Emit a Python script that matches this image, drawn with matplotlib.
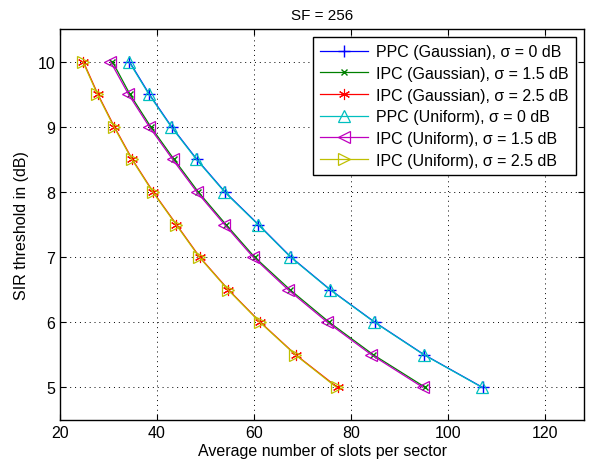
import matplotlib
matplotlib.use('Agg')
import matplotlib.pyplot as plt

plt.rcParams['font.family'] = ['Liberation Sans', 'DejaVu Sans']
plt.rcParams['font.size'] = 11.5

# SIR threshold values (dB)
sir = [10, 9.5, 9, 8.5, 8, 7.5, 7, 6.5, 6, 5.5, 5]

# average number of slots per sector
ppc_gauss = [34.3, 38.4, 43.0, 48.2, 54.0, 60.9, 67.6, 75.7, 84.9, 95.1, 107.1]
ipc15_gauss = [30.8, 34.4, 38.7, 43.5, 48.5, 54.2, 60.1, 67.4, 75.5, 84.6, 95.3]
ipc25_gauss = [24.8, 27.8, 31.2, 34.9, 39.2, 44.0, 48.8, 54.7, 61.3, 68.6, 77.2]
ppc_unif = [34.2, 38.3, 42.9, 48.1, 53.9, 60.8, 67.5, 75.6, 84.8, 95.0, 107.0]
ipc15_unif = [30.4, 34.1, 38.4, 43.2, 48.2, 53.9, 59.8, 67.0, 75.1, 84.2, 94.8]
ipc25_unif = [24.7, 27.7, 31.1, 34.8, 39.1, 43.9, 48.7, 54.6, 61.2, 68.5, 77.0]

labels = ['PPC (Gaussian), \u03c3 = 0 dB',
          'IPC (Gaussian), \u03c3 = 1.5 dB',
          'IPC (Gaussian), \u03c3 = 2.5 dB',
          'PPC (Uniform), \u03c3 = 0 dB',
          'IPC (Uniform), \u03c3 = 1.5 dB',
          'IPC (Uniform), \u03c3 = 2.5 dB']

fig = plt.figure(figsize=(5.89, 4.64), dpi=100)
ax = fig.add_axes([60 / 589, 1 - 421 / 464, 524 / 589, 391 / 464])

ax.plot(ppc_gauss, sir, '-+', color='b', lw=0.9, ms=8, label=labels[0])
ax.plot(ipc15_gauss, sir, '-x', color=(0, 0.5, 0), lw=0.9, ms=5, label=labels[1])
ax.plot(ipc25_gauss, sir, '-', marker=(6, 2, 0), color='r', lw=0.9, ms=8, mew=0.8, label=labels[2])
ax.plot(ppc_unif, sir, '-^', color='c', lw=0.9, ms=9, mfc='none', mew=0.9, label=labels[3])
ax.plot(ipc15_unif, sir, '-<', color='m', lw=0.9, ms=9, mfc='none', mew=0.9, label=labels[4])
ax.plot(ipc25_unif, sir, '->', color=(0.75, 0.75, 0), lw=0.9, ms=9, mfc='none', mew=0.9, label=labels[5])

ax.set_xlim(20, 128)
ax.set_ylim(4.5, 10.5)
ax.set_xticks([20, 40, 60, 80, 100, 120])
ax.set_yticks([5, 6, 7, 8, 9, 10])
ax.grid(True, linestyle=(0, (1, 4)), color='black', lw=0.7)
ax.tick_params(direction='in', top=True, right=True, length=4)
for s in ax.spines.values():
    s.set_linewidth(1.0)

ax.set_title('SF = 256', fontsize=11, pad=7)
ax.set_xlabel('Average number of slots per sector', labelpad=2)
ax.set_ylabel('SIR threshold in (dB)', labelpad=6)

leg = ax.legend(loc='upper right', fancybox=False, edgecolor='black',
                framealpha=1, borderaxespad=0.5, handlelength=3.0,
                labelspacing=0.42, borderpad=0.45, handletextpad=0.5)
leg.get_frame().set_linewidth(1.0)

fig.savefig('out.png', dpi=100)
